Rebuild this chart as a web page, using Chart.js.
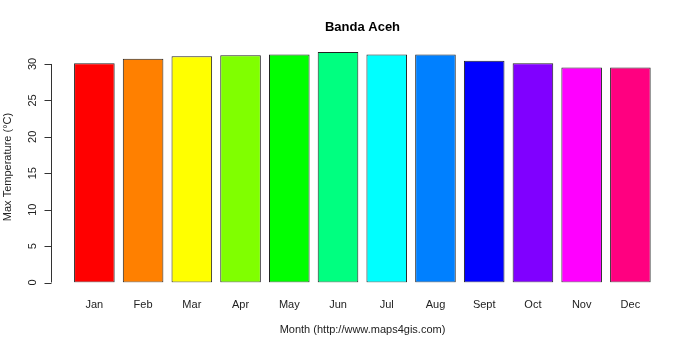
<!DOCTYPE html>
<html>
<head>
<meta charset="utf-8">
<script src="https://cdn.jsdelivr.net/npm/chart.js@4.4.1/dist/chart.umd.min.js"></script>
<style>
  html, body { margin: 0; padding: 0; background: #fff; }
  #wrap { width: 700px; height: 350px; }
</style>
</head>
<body>
<div id="wrap"><canvas id="tempChart" width="700" height="350"></canvas></div>
<script>
const months = ['Jan', 'Feb', 'Mar', 'Apr', 'May', 'Jun', 'Jul', 'Aug', 'Sept', 'Oct', 'Nov', 'Dec'];
const maxTemp = [30.1, 30.7, 31.05, 31.2, 31.3, 31.65, 31.3, 31.3, 30.45, 30.1, 29.5, 29.5];
const yTicks = [0, 5, 10, 15, 20, 25, 30];
const barColors = ['#FF0000', '#FF8000', '#FFFF00', '#80FF00', '#00FF00', '#00FF80',
                   '#00FFFF', '#0080FF', '#0000FF', '#8000FF', '#FF00FF', '#FF0080'];

const font = '"Liberation Sans", Arial, sans-serif';

// R-style axes, labels and titles drawn around the plot
const rAxes = {
    id: 'rAxes',
    afterDraw(chart) {
        const ctx = chart.ctx;
        const x = chart.scales.x;
        const y = chart.scales.y;
        const axisX = 51.5;
        const y0 = y.getPixelForValue(yTicks[0]);
        const y1 = y.getPixelForValue(yTicks[yTicks.length - 1]);

        ctx.save();
        ctx.strokeStyle = '#333';
        ctx.lineWidth = 1;
        ctx.beginPath();
        ctx.moveTo(axisX, y0);
        ctx.lineTo(axisX, y1);
        yTicks.forEach(t => {
            const py = Math.round(y.getPixelForValue(t)) + 0.5;
            ctx.moveTo(axisX, py);
            ctx.lineTo(axisX - 7, py);
        });
        ctx.stroke();

        ctx.fillStyle = '#222';
        ctx.font = '11px ' + font;
        ctx.textAlign = 'center';
        ctx.textBaseline = 'middle';
        yTicks.forEach(t => {
            const py = y.getPixelForValue(t);
            ctx.save();
            ctx.translate(33, py);
            ctx.rotate(-Math.PI / 2);
            ctx.fillText(String(t), 0, 0);
            ctx.restore();
        });

        ctx.save();
        ctx.translate(8, 167);
        ctx.rotate(-Math.PI / 2);
        ctx.fillText('Max Temperature (°C)', 0, 0);
        ctx.restore();

        months.forEach((m, i) => {
            ctx.fillText(m, x.getPixelForValue(i), 305);
        });
        ctx.fillText('Month (http://www.maps4gis.com)', 362.5, 330);

        ctx.font = 'bold 13px ' + font;
        ctx.fillStyle = '#000';
        ctx.fillText('Banda Aceh', 362.5, 27);
        ctx.restore();
    }
};

new Chart(document.getElementById('tempChart'), {
    type: 'bar',
    data: {
        labels: months,
        datasets: [{
            label: 'Max Temperature',
            data: maxTemp,
            backgroundColor: barColors,
            borderColor: '#222',
            borderWidth: 1,
            borderSkipped: false,
            categoryPercentage: 1,
            barPercentage: 0.833
        }]
    },
    options: {
        responsive: false,
        animation: false,
        layout: {
            padding: { left: 70, right: 45.25, top: 49.4, bottom: 67.5 }
        },
        plugins: {
            legend: { display: false },
            tooltip: { enabled: false }
        },
        scales: {
            x: { display: false },
            y: { display: false, min: 0, max: 32 }
        }
    },
    plugins: [rAxes]
});
</script>
</body>
</html>
